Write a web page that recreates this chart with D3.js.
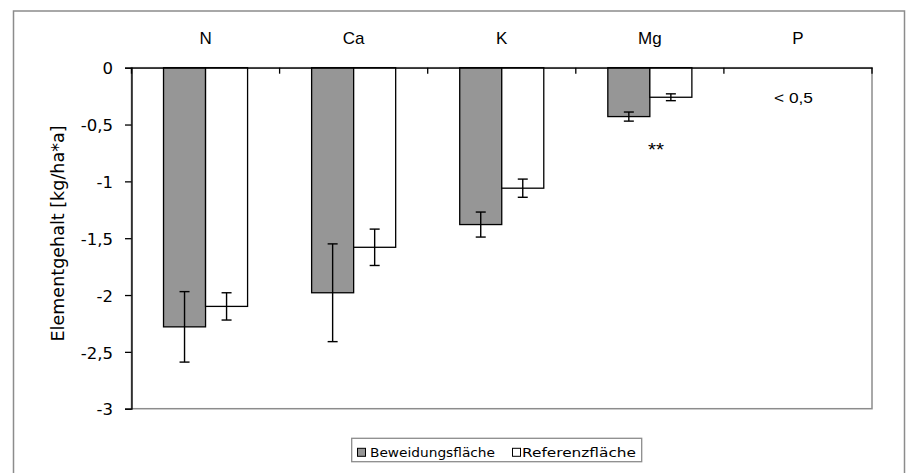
<!DOCTYPE html>
<html>
<head>
<meta charset="utf-8">
<script src="https://cdn.jsdelivr.net/npm/d3@7"></script>
<style>
  html, body { margin: 0; padding: 0; background: #fff; }
  svg { display: block; }
</style>
</head>
<body>
<svg id="chart" width="906" height="473"></svg>
<script>
// Element balance per nutrient (kg/ha*a), mean and error for both areas
const categories = ["N", "Ca", "K", "Mg", "P"];
const seriesNames = ["Beweidungsfläche", "Referenzfläche"];
const beweidung = [-2.28, -1.98, -1.38, -0.43, null];
const referenz = [-2.10, -1.58, -1.06, -0.26, null];
const errBeweidung = [0.31, 0.43, 0.11, 0.04, null];
const errReferenz = [0.12, 0.16, 0.08, 0.03, null];
const yTicks = [0, -0.5, -1, -1.5, -2, -2.5, -3];

const svg = d3.select("#chart");
const plot = { left: 131.5, right: 872, top: 67.7, bottom: 408.7 };

// outer frame
svg.append("rect")
  .attr("x", 13.5).attr("y", 11)
  .attr("width", 891).attr("height", 480)
  .attr("fill", "#fff").attr("stroke", "#8c8c8c").attr("stroke-width", 1.5);

const x = d3.scaleBand().domain(categories).range([plot.left, plot.right]).padding(0);
const xs = d3.scaleBand().domain(seriesNames).range([0, x.bandwidth()])
  .paddingInner(0).paddingOuter(0.762);
const y = d3.scaleLinear().domain([-3, 0]).range([plot.bottom, plot.top]);

// plot area border
svg.append("rect")
  .attr("x", plot.left).attr("y", plot.top)
  .attr("width", plot.right - plot.left).attr("height", plot.bottom - plot.top)
  .attr("fill", "#fff").attr("stroke", "#8c8c8c").attr("stroke-width", 1.5);

const fill = { "Beweidungsfläche": "#969696", "Referenzfläche": "#ffffff" };
const rows = [];
categories.forEach((c, i) => {
  rows.push({ cat: c, s: seriesNames[0], v: beweidung[i], e: errBeweidung[i] });
  rows.push({ cat: c, s: seriesNames[1], v: referenz[i], e: errReferenz[i] });
});
const data = rows.filter(d => d.v !== null);

// bars
svg.append("g").selectAll("rect").data(data).join("rect")
  .attr("x", d => x(d.cat) + xs(d.s))
  .attr("y", d => y(0))
  .attr("width", xs.bandwidth())
  .attr("height", d => y(d.v) - y(0))
  .attr("fill", d => fill[d.s])
  .attr("stroke", "#000").attr("stroke-width", 1.3);

// error bars
const eg = svg.append("g").attr("stroke", "#000").attr("stroke-width", 1.4);
data.forEach(d => {
  const cx = x(d.cat) + xs(d.s) + xs.bandwidth() / 2;
  const y1 = y(d.v + d.e), y2 = y(d.v - d.e);
  eg.append("line").attr("x1", cx).attr("x2", cx).attr("y1", y1).attr("y2", y2);
  eg.append("line").attr("x1", cx - 5).attr("x2", cx + 5).attr("y1", y1).attr("y2", y1);
  eg.append("line").attr("x1", cx - 5).attr("x2", cx + 5).attr("y1", y2).attr("y2", y2);
});

// y axis
const yAxis = d3.axisLeft(y).tickValues(yTicks).tickSize(6.5).tickPadding(12)
  .tickFormat(d => String(d).replace(".", ","));
const ya = svg.append("g").attr("transform", `translate(${plot.left},0)`).call(yAxis);
ya.select(".domain").attr("stroke", "#000").attr("stroke-width", 1.3);
ya.selectAll(".tick line").attr("stroke", "#000").attr("stroke-width", 1.3);
ya.selectAll(".tick text")
  .attr("font-family", "DejaVu Sans").attr("font-size", 16.5).attr("fill", "#000")
  .attr("dy", "0.38em");

// zero line with category ticks pointing down
const xAxis = d3.axisBottom(x).tickSize(0).tickFormat("");
const xa = svg.append("g").attr("transform", `translate(0,${y(0)})`).call(xAxis);
xa.select(".domain").attr("stroke", "#000").attr("stroke-width", 1.3);
const bounds = categories.map(c => x(c)).concat([plot.right]);
svg.append("g").selectAll("line").data(bounds).join("line")
  .attr("x1", d => d).attr("x2", d => d)
  .attr("y1", y(0)).attr("y2", y(0) + 6)
  .attr("stroke", "#000").attr("stroke-width", 1.3);

// category labels above the plot
svg.append("g").selectAll("text").data(categories).join("text")
  .attr("x", d => x(d) + x.bandwidth() / 2)
  .attr("y", 43.5)
  .attr("text-anchor", "middle")
  .attr("font-family", "Liberation Sans, Arial, sans-serif")
  .attr("font-size", 17)
  .text(d => d);

// y axis title
svg.append("text")
  .attr("transform", "translate(63.5,233.5) rotate(-90)")
  .attr("text-anchor", "middle")
  .attr("font-family", "DejaVu Sans")
  .attr("font-size", 17)
  .attr("textLength", 216).attr("lengthAdjust", "spacingAndGlyphs")
  .text("Elementgehalt [kg/ha*a]");

// annotations
svg.append("text")
  .attr("x", 774).attr("y", 103.3)
  .attr("font-family", "Liberation Sans, Arial, sans-serif")
  .attr("font-size", 15)
  .attr("textLength", 39).attr("lengthAdjust", "spacingAndGlyphs")
  .text("< 0,5");
svg.append("text")
  .attr("x", 648).attr("y", 156)
  .attr("font-family", "Liberation Sans, Arial, sans-serif")
  .attr("font-size", 19)
  .attr("textLength", 16).attr("lengthAdjust", "spacingAndGlyphs")
  .text("**");

// legend
const lg = svg.append("g");
lg.append("rect")
  .attr("x", 351.7).attr("y", 438.3).attr("width", 290).attr("height", 23.4)
  .attr("fill", "#fff").attr("stroke", "#8c8c8c").attr("stroke-width", 1.3);
const legendItems = [
  { name: seriesNames[0], sx: 357.5, tx: 370, len: 125 },
  { name: seriesNames[1], sx: 512.5, tx: 522, len: 114 }
];
legendItems.forEach(it => {
  lg.append("rect")
    .attr("x", it.sx).attr("y", 448.3).attr("width", 8).attr("height", 8)
    .attr("fill", fill[it.name]).attr("stroke", "#000").attr("stroke-width", 1);
  lg.append("text")
    .attr("x", it.tx).attr("y", 456.7)
    .attr("font-family", "DejaVu Sans").attr("font-size", 12.5)
    .attr("textLength", it.len).attr("lengthAdjust", "spacingAndGlyphs")
    .text(it.name);
});
</script>
</body>
</html>
